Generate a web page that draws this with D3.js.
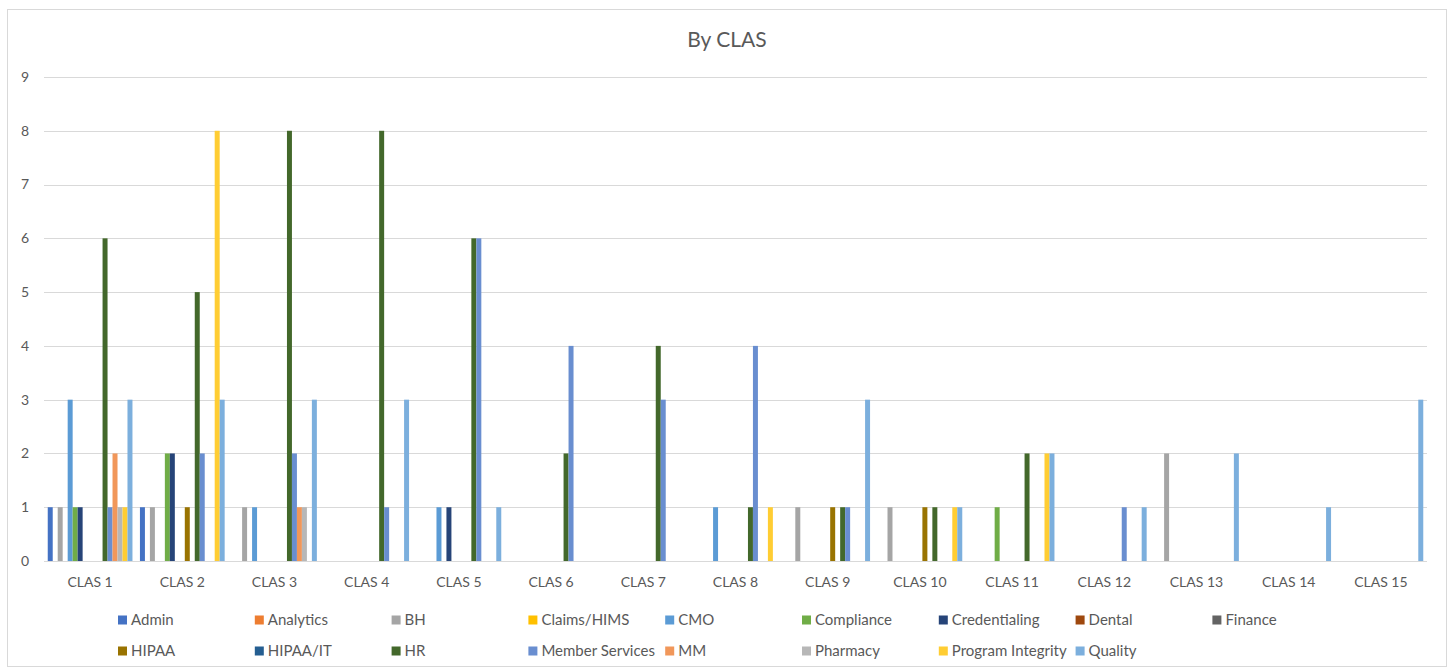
<!DOCTYPE html>
<html>
<head>
<meta charset="utf-8">
<script src="https://cdn.jsdelivr.net/npm/d3@7"></script>
<style>
  body { margin: 0; background: #fff; }
  svg { display: block; font-family: Lato, "Open Sans", sans-serif; }
</style>
</head>
<body>
<svg id="chart" width="1450" height="671"></svg>
<script>
const categories = ["CLAS 1","CLAS 2","CLAS 3","CLAS 4","CLAS 5","CLAS 6","CLAS 7","CLAS 8","CLAS 9","CLAS 10","CLAS 11","CLAS 12","CLAS 13","CLAS 14","CLAS 15"];
const seriesNames = ["Admin","Analytics","BH","Claims/HIMS","CMO","Compliance","Credentialing","Dental","Finance","HIPAA","HIPAA/IT","HR","Member Services","MM","Pharmacy","Program Integrity","Quality"];
const seriesColors = ["#4472C4","#ED7D31","#A5A5A5","#FFC000","#5B9BD5","#70AD47","#264478","#9E480E","#636363","#997300","#255E91","#43682B","#698ED0","#F1975A","#B7B7B7","#FFCD33","#7CAFDD"];

const admin            = [1,1,0,0,0,0,0,0,0,0,0,0,0,0,0];
const analytics        = [0,0,0,0,0,0,0,0,0,0,0,0,0,0,0];
const bh               = [1,1,1,0,0,0,0,0,1,1,0,0,2,0,0];
const claimsHims       = [0,0,0,0,0,0,0,0,0,0,0,0,0,0,0];
const cmo              = [3,0,1,0,1,0,0,1,0,0,0,0,0,0,0];
const compliance       = [1,2,0,0,0,0,0,0,0,0,1,0,0,0,0];
const credentialing    = [1,2,0,0,1,0,0,0,0,0,0,0,0,0,0];
const dental           = [0,0,0,0,0,0,0,0,0,0,0,0,0,0,0];
const finance          = [0,0,0,0,0,0,0,0,0,0,0,0,0,0,0];
const hipaa            = [0,1,0,0,0,0,0,0,1,1,0,0,0,0,0];
const hipaaIt          = [0,0,0,0,0,0,0,0,0,0,0,0,0,0,0];
const hr               = [6,5,8,8,6,2,4,1,1,1,2,0,0,0,0];
const memberServices   = [1,2,2,1,6,4,3,4,1,0,0,1,0,0,0];
const mm               = [2,0,1,0,0,0,0,0,0,0,0,0,0,0,0];
const pharmacy         = [1,0,1,0,0,0,0,0,0,0,0,0,0,0,0];
const programIntegrity = [1,8,0,0,0,0,0,1,0,1,2,0,0,0,0];
const quality          = [3,3,3,3,1,0,0,0,3,1,2,1,2,1,3];
const yTicks = [0,1,2,3,4,5,6,7,8,9];

const seriesValues = [admin, analytics, bh, claimsHims, cmo, compliance, credentialing, dental, finance, hipaa, hipaaIt, hr, memberServices, mm, pharmacy, programIntegrity, quality];

const svg = d3.select("#chart");
const textColor = "#595959";
const gridColor = "#d9d9d9";

// chart border
svg.append("rect").attr("x", 7.5).attr("y", 9.5).attr("width", 1439).attr("height", 657)
  .attr("fill", "#fff").attr("stroke", gridColor).attr("stroke-width", 1);

// title
svg.append("text").attr("x", 727).attr("y", 47).attr("text-anchor", "middle")
  .attr("fill", textColor).attr("font-size", 21).text("By CLAS");

const plotLeft = 44, plotRight = 1427, plotTop = 77, plotBottom = 561;
const nS = seriesNames.length;
const pad = 1.5 / (nS + 1.5);

const x0 = d3.scaleBand().domain(categories).range([plotLeft, plotRight])
  .paddingInner(pad).paddingOuter(pad / 2);
const x1 = d3.scaleBand().domain(seriesNames).range([0, x0.bandwidth()]);
const y = d3.scaleLinear().domain([0, 9]).range([plotBottom, plotTop]);

// gridlines
svg.append("g").selectAll("line").data(yTicks).join("line")
  .attr("x1", plotLeft).attr("x2", plotRight)
  .attr("y1", d => Math.round(y(d)) + 0.5).attr("y2", d => Math.round(y(d)) + 0.5)
  .attr("stroke", gridColor).attr("stroke-width", 1);

// y labels
svg.append("g").selectAll("text").data(yTicks).join("text")
  .attr("x", 29).attr("y", d => y(d)).attr("dy", "0.35em")
  .attr("text-anchor", "end").attr("fill", textColor).attr("font-size", 14)
  .text(d => d);

// bars
const groups = svg.append("g").selectAll("g").data(categories).join("g")
  .attr("transform", c => `translate(${x0(c)},0)`);
groups.selectAll("rect")
  .data((c, ci) => seriesNames.map((s, si) => ({s, si, v: seriesValues[si][ci]})).filter(d => d.v > 0))
  .join("rect")
  .attr("x", d => x1(d.s))
  .attr("width", x1.bandwidth())
  .attr("y", d => y(d.v))
  .attr("height", d => y(0) - y(d.v))
  .attr("fill", d => seriesColors[d.si]);

// x labels
svg.append("g").selectAll("text").data(categories).join("text")
  .attr("x", c => x0(c) + x0.bandwidth() / 2).attr("y", 587)
  .attr("text-anchor", "middle").attr("fill", textColor).attr("font-size", 14)
  .text(c => c);

// legend
const legCols = 9, legX0 = 118, legStep = 136.8, legRows = [620, 651];
const leg = svg.append("g").selectAll("g").data(seriesNames).join("g")
  .attr("transform", (s, i) => `translate(${legX0 + (i % legCols) * legStep},${legRows[Math.floor(i / legCols)]})`);
leg.append("rect").attr("x", 0).attr("y", -4.5).attr("width", 9).attr("height", 9)
  .attr("fill", (s, i) => seriesColors[i]);
leg.append("text").attr("x", 13).attr("y", 0).attr("dy", "0.35em")
  .attr("fill", textColor).attr("font-size", 15).text(s => s);
</script>
</body>
</html>
